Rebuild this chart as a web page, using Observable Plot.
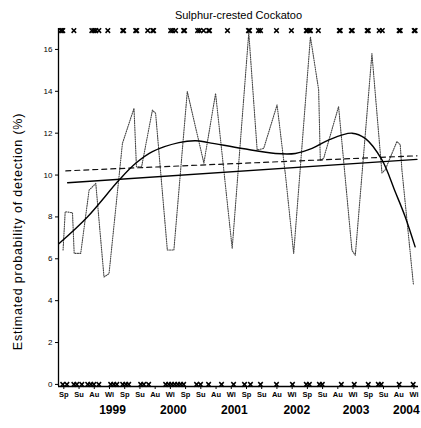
<!DOCTYPE html>
<html>
<head>
<meta charset="utf-8">
<script src="https://cdn.jsdelivr.net/npm/d3@7"></script>
<script src="https://cdn.jsdelivr.net/npm/@observablehq/plot@0.6"></script>
<style>
  html, body { margin: 0; padding: 0; background: #fff; }
  #chart svg { display: block; }
</style>
</head>
<body>
<div id="chart"></div>
<script>
// Time axis is in seasons: 0 = spring 1998, 1 = summer, 2 = autumn, 3 = winter 1999, ...
const seasonNames = ["Sp", "Su", "Au", "Wi"];
const seasonTicks = d3.range(0, 24);
const yearLabels = ["1999", "2000", "2001", "2002", "2003", "2004"];
const yearPositions = [3.2, 7.2, 11.2, 15.3, 19.2, 22.5];
const yTicks = [0, 2, 4, 6, 8, 10, 12, 14, 16];

// Seasonal model estimate (dotted)
const seasonalT = [-0.05, 0.09, 0.57, 0.68, 1.11, 1.66, 2.1, 2.64, 2.97, 3.85, 4.61, 4.77, 5.11, 5.82, 6.03, 6.8, 7.23, 8.11, 9.2, 9.97, 11.06, 12.15, 12.7, 13.13, 14.01, 14.56, 15.1, 16.2, 16.74, 16.85, 17.07, 18.05, 18.93, 19.15, 20.24, 20.9, 21.11, 21.88, 22.1, 22.21, 22.97];
const seasonalP = [6.42, 8.25, 8.2, 6.26, 6.26, 9.28, 9.6, 5.13, 5.29, 11.51, 13.19, 10.4, 10.4, 13.1, 12.95, 6.42, 6.42, 13.99, 10.57, 13.9, 6.5, 16.8, 11.2, 11.27, 13.35, 10.0, 6.25, 16.6, 14.07, 10.7, 10.8, 13.27, 6.4, 6.17, 15.8, 10.1, 10.25, 11.6, 11.45, 10.25, 4.74];

// Smoothed trend (solid curve)
const smoothT = [-0.31, 1.55, 3.63, 4.72, 5.82, 7.56, 8.66, 9.51, 11.72, 13.9, 15.21, 16.31, 17.38, 18.93, 19.8, 20.9, 21.77, 22.43, 23.08];
const smoothP = [6.73, 8.0, 9.76, 10.56, 11.12, 11.55, 11.64, 11.55, 11.27, 11.03, 11.03, 11.27, 11.67, 12.0, 11.75, 10.72, 9.2, 8.0, 6.57];

// Linear trends
const linearT = [0.25, 23.2];
const linearP = [9.63, 10.75];
const dashedT = [0.13, 23.2];
const dashedP = [10.2, 10.92];

// Survey records: detections (top) and non-detections (bottom)
const detectedT = [-0.2, -0.13, -0.07, 0.66, 1.84, 1.97, 2.1, 2.3, 2.89, 3.87, 3.93, 4.72, 4.79, 5.51, 5.84, 5.9, 7.02, 7.15, 7.34, 7.87, 7.93, 8.79, 8.92, 9.18, 9.51, 9.57, 10.75, 12.13, 12.2, 12.79, 12.92, 13.97, 14.95, 15.93, 16.0, 16.13, 16.2, 16.72, 18.1, 18.16, 18.89, 18.95, 19.93, 20.0, 20.72, 20.92, 22.03, 22.1, 23.02, 23.08];
const absentT = [-0.07, 0.2, 0.66, 0.85, 1.18, 1.57, 1.77, 1.97, 2.3, 3.08, 3.28, 3.48, 3.87, 4.07, 4.26, 5.05, 5.25, 5.57, 6.69, 6.89, 7.08, 7.28, 7.48, 7.67, 7.87, 8.72, 8.98, 9.51, 10.36, 11.15, 11.87, 12.26, 12.92, 13.97, 15.02, 15.93, 16.13, 16.79, 16.98, 18.23, 19.08, 20.0, 20.66, 20.85, 22.03, 22.95];

const yMin = -0.1, yMax = 17;
const titleText = "Sulphur-crested Cockatoo";
const yLabelText = "Estimated probability of detection (%)";
const toRows = (ts, ps) => ts.map((t, i) => ({t, p: ps[i]}));

const chart = Plot.plot({
  width: 421,
  height: 428,
  marginLeft: 58,
  marginRight: 3,
  marginTop: 28,
  marginBottom: 42,
  style: {fontFamily: "'Liberation Sans', Arial, sans-serif", color: "#000", background: "#fff"},
  x: {domain: [-0.35, 23.3]},
  y: {domain: [yMin, yMax]},
  marks: [
    Plot.ruleX([-0.35], {stroke: "#000", strokeWidth: 1.3}),
    Plot.ruleY([yMin], {stroke: "#000", strokeWidth: 1.3}),
    Plot.axisY({ticks: yTicks, tickSize: 3, tickPadding: 3, fontSize: 8, label: null, stroke: "#000"}),
    Plot.axisX({ticks: seasonTicks, tickFormat: (d) => seasonNames[d % 4], tickSize: 3, tickPadding: 2, fontSize: 7.5, fontWeight: "bold", label: null, stroke: "#000"}),
    Plot.text(yearLabels, {x: yearPositions, y: yMin, text: (d) => d, dy: 24, fontSize: 12, fontWeight: "bold", lineAnchor: "middle"}),
    Plot.line(toRows(seasonalT, seasonalP), {x: "t", y: "p", stroke: "#444", strokeWidth: 1.1, strokeDasharray: "1,1.3"}),
    Plot.line(toRows(dashedT, dashedP), {x: "t", y: "p", stroke: "#111", strokeWidth: 1.2, strokeDasharray: "5,4"}),
    Plot.line(toRows(linearT, linearP), {x: "t", y: "p", stroke: "#000", strokeWidth: 1.4}),
    Plot.line(toRows(smoothT, smoothP), {x: "t", y: "p", stroke: "#000", strokeWidth: 1.4, curve: "catmull-rom"}),
    Plot.dot(detectedT, {x: (d) => d, y: yMax - 0.1, symbol: "times", r: 2.2, stroke: "#000", strokeWidth: 1.5}),
    Plot.dot(absentT, {x: (d) => d, y: 0, symbol: "times", r: 2.2, stroke: "#000", strokeWidth: 1.5}),
    Plot.text([titleText], {frameAnchor: "top", dy: -13, lineAnchor: "middle", fontSize: 11}),
    Plot.text([yLabelText], {frameAnchor: "left", dx: -41, dy: 24, rotate: -90, lineAnchor: "middle", textAnchor: "middle", fontSize: 12.5})
  ]
});

// Slightly open letter spacing on the vertical axis title
d3.select(chart).selectAll("text")
  .filter(function () { return this.textContent === yLabelText; })
  .attr("letter-spacing", "0.8");

document.getElementById("chart").appendChild(chart);
</script>
</body>
</html>
